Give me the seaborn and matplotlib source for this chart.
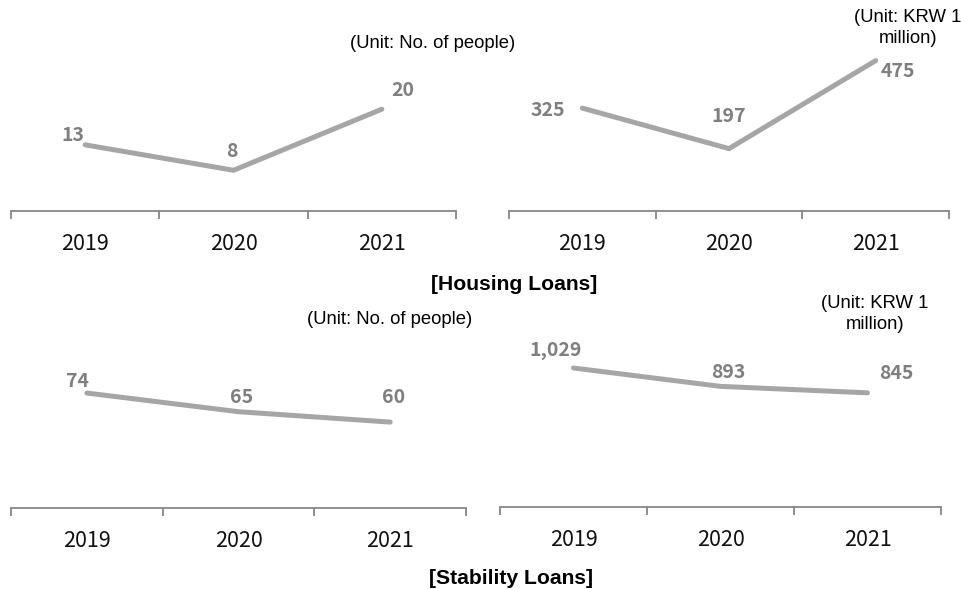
import numpy as np
import pandas as pd
import matplotlib
matplotlib.use("Agg")
import matplotlib.pyplot as plt
import seaborn as sns

# ---- data ----
years = ["2019", "2020", "2021"]
housing_people = [13, 8, 20]
housing_amount = [325, 197, 475]
stability_people = [74, 65, 60]
stability_amount = [1029, 893, 845]
housing_title = "[Housing Loans]"
stability_title = "[Stability Loans]"
unit_people = "(Unit: No. of people)"
unit_amount = "(Unit: KRW 1\nmillion)"

sns.set_style("white")
plt.rcParams["font.family"] = ["Noto Sans CJK KR", "DejaVu Sans"]

W, H = 961, 589
fig = plt.figure(figsize=(W / 100, H / 100), dpi=100)

LINE_C = "#A6A6A6"
LABEL_C = "#7F7F7F"
AXIS_C = "#868686"


def px_axes(x0, x1, y_axis, y_top):
    return fig.add_axes([x0 / W, 1 - y_axis / H, (x1 - x0) / W, (y_axis - y_top) / H])


def fmt(v):
    return f"{v:,}"


def panel(x0, x1, y_axis, y_top, values, bottom, slope, offsets):
    ax = px_axes(x0, x1, y_axis, y_top)
    df = pd.DataFrame({"pos": np.arange(len(years)), "value": values})
    sns.lineplot(data=df, x="pos", y="value", ax=ax, color=LINE_C, linewidth=3.6,
                 solid_capstyle="round", solid_joinstyle="miter")
    ax.set_xlim(-0.5, len(years) - 0.5)
    ax.set_ylim(bottom, bottom + (y_axis - y_top) / slope)
    for s in ["top", "left", "right"]:
        ax.spines[s].set_visible(False)
    ax.spines["bottom"].set_color(AXIS_C)
    ax.spines["bottom"].set_linewidth(1.3)
    ax.set_yticks([])
    ax.set_xticks(np.arange(len(years)))
    ax.set_xticklabels(years, fontsize=15.5, color="#111111")
    ax.tick_params(axis="x", which="major", length=0, pad=16, bottom=True)
    ax.set_xticks(np.arange(len(years) + 1) - 0.5, minor=True)
    ax.tick_params(axis="x", which="minor", length=5.5, width=1.3, color=AXIS_C,
                   direction="out", bottom=True)
    ax.set_xlabel("")
    ax.set_ylabel("")
    ax.patch.set_alpha(0)
    for i, v in enumerate(values):
        dx, dy = offsets[i]
        ax.annotate(fmt(v), (i, v), xytext=(dx * 0.72, -dy * 0.72),
                    textcoords="offset points", ha="center", va="center",
                    fontsize=14, fontweight="bold", color=LABEL_C,
                    annotation_clip=False)
    return ax


panel(11, 456, 211, 30, housing_people, 0, 5.09,
      [(-12, -9), (-2, -19), (21, -19)])
panel(509, 949, 211, 30, housing_amount, 0, 0.3166,
      [(-34, 2), (0, -32), (22, 11)])
panel(11, 466, 508, 330, stability_people, 18.6, 2.075,
      [(-9, -12), (3, -14), (3, -25)])
panel(500, 941, 507, 330, stability_amount, 0, 0.1351,
      [(-18, -17), (8, -14), (29, -19)])


def ftext(x, y, s, **kw):
    fig.text(x / W, 1 - y / H, s, ha="center", va="center", color="black",
             family=["Liberation Sans", "DejaVu Sans"], **kw)


ftext(433, 43, unit_people, fontsize=13.3)
ftext(908, 28, unit_amount, fontsize=13.3, linespacing=1.3)
ftext(514, 285, housing_title, fontsize=15.2, fontweight="bold")
ftext(390, 319, unit_people, fontsize=13.3)
ftext(875, 314, unit_amount, fontsize=13.3, linespacing=1.3)
ftext(511, 578, stability_title, fontsize=15.2, fontweight="bold")

fig.savefig("out.png", dpi=100)
